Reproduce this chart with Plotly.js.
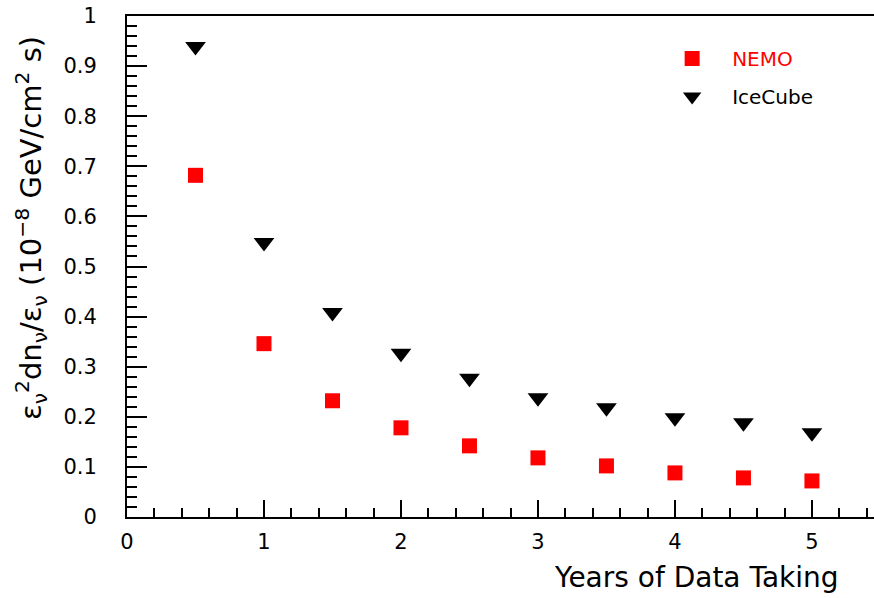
<!DOCTYPE html>
<html>
<head>
<meta charset="utf-8">
<script src="https://cdn.plot.ly/plotly-3.0.1.min.js"></script>
<style>html,body{margin:0;padding:0;background:#fff;}#chart{width:874px;height:598px;}</style>
</head>
<body>
<div id="chart"></div>
<script>
const years = [0.5, 1, 1.5, 2, 2.5, 3, 3.5, 4, 4.5, 5];
const nemo = [0.682, 0.346, 0.232, 0.178, 0.142, 0.118, 0.102, 0.088, 0.078, 0.072];
const icecube = [0.939, 0.548, 0.408, 0.327, 0.277, 0.238, 0.218, 0.198, 0.188, 0.168];
const xTitle = 'Years of Data Taking';
const yTitle = 'ε<sub>ν</sub><sup>2</sup>dn<sub>ν</sub>/ε<sub>ν</sub> (10<sup>−8</sup> GeV/cm<sup>2</sup> s)';

const FONT = 'DejaVu Sans, Liberation Sans, Arial, sans-serif';

const traces = [
  {x: years, y: nemo, type: 'scatter', mode: 'markers', name: '<span style="color:#ff0000">NEMO</span>',
   legendgroup: 'a',
   marker: {symbol: 'square', size: 15, color: '#ff0000'}},
  {x: years, y: icecube, type: 'scatter', mode: 'markers', name: 'IceCube',
   legendgroup: 'b',
   marker: {symbol: 'triangle-down', size: 18, color: '#000000'}}
];

const layout = {
  width: 874, height: 598,
  margin: {l: 127, r: 0, t: 16, b: 81},
  paper_bgcolor: '#ffffff', plot_bgcolor: '#ffffff',
  font: {family: FONT, color: '#000', size: 21},
  showlegend: true,
  legend: {x: 0.703, y: 0.954, xanchor: 'left', yanchor: 'top', bgcolor: 'rgba(0,0,0,0)',
           font: {family: FONT, size: 20, color: '#000'}, tracegroupgap: 9, traceorder: 'grouped', itemwidth: 70},
  xaxis: {range: [0, 5.453], tickmode: 'linear', tick0: 0, dtick: 1, ticks: 'inside', ticklen: 17, tickwidth: 2,
          tickcolor: '#000', minor: {dtick: 0.2, ticks: 'inside', ticklen: 9, tickwidth: 2, tickcolor: '#000'},
          showline: true, linewidth: 2, linecolor: '#000', mirror: true, showgrid: false, zeroline: false,
          tickfont: {family: FONT, size: 21}, ticklabelstandoff: 5},
  yaxis: {range: [0, 1], tickmode: 'linear', tick0: 0, dtick: 0.1, ticks: 'inside', ticklen: 20, tickwidth: 2,
          tickcolor: '#000', minor: {dtick: 0.02, ticks: 'inside', ticklen: 10, tickwidth: 2, tickcolor: '#000'},
          showline: true, linewidth: 2, linecolor: '#000', showgrid: false, zeroline: false,
          tickfont: {family: FONT, size: 21}, ticklabelstandoff: 24},
  annotations: [
    {text: xTitle, xref: 'paper', yref: 'paper', x: (552 - 127) / 747, y: 0, xanchor: 'left', yanchor: 'middle',
     yshift: -60, showarrow: false, font: {family: FONT, size: 28, color: '#000'}},
    {text: yTitle, xref: 'paper', yref: 'paper', x: 0, xshift: -96, y: (517 - 228) / 501, xanchor: 'center', yanchor: 'middle',
     textangle: -90, showarrow: false, font: {family: FONT, size: 29, color: '#000'}}
  ]
};

Plotly.newPlot('chart', traces, layout, {displayModeBar: false, staticPlot: true});
</script>
</body>
</html>
